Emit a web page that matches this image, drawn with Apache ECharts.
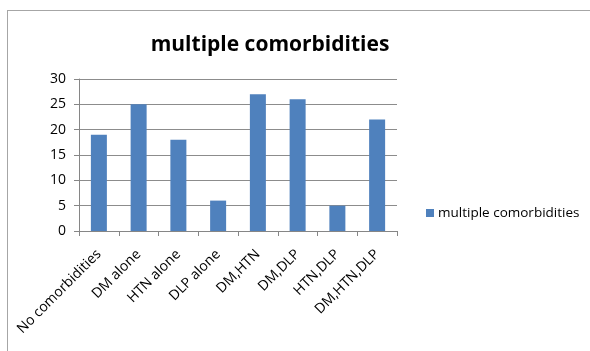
<!DOCTYPE html>
<html>
<head>
<meta charset="utf-8">
<script src="https://cdn.jsdelivr.net/npm/echarts@6/dist/echarts.min.js"></script>
<style>
  html, body { margin: 0; padding: 0; background: #fff; }
  #frame { position: absolute; left: 7px; top: 10px; width: 600px; height: 360px; border: 1px solid #a6a6a6; box-sizing: border-box; }
  #chart { position: absolute; left: 0; top: 0; width: 590px; height: 351px; }
</style>
</head>
<body>
<div id="frame"></div>
<div id="chart"></div>
<script>
// Comorbidity groups and their counts
const categories = ['No comorbidities', 'DM alone', 'HTN alone', 'DLP alone', 'DM,HTN', 'DM,DLP', 'HTN,DLP', 'DM,HTN,DLP'];
const counts = [19, 25, 18, 6, 27, 26, 5, 22];
const seriesName = 'multiple comorbidities';
const yTicks = { min: 0, max: 30, interval: 5 };

const font = '"Open Sans", sans-serif';
const chart = echarts.init(document.getElementById('chart'), null, { renderer: 'canvas' });
chart.setOption({
  animation: false,
  title: {
    text: 'multiple comorbidities',
    left: 265, top: 30, textAlign: 'center',
    textStyle: { fontFamily: font, fontSize: 21, fontWeight: 'bold', color: '#000' }
  },
  legend: {
    data: [seriesName],
    left: 421, top: 201,
    itemWidth: 8, itemHeight: 8, itemGap: 4,
    icon: 'rect',
    textStyle: { fontFamily: font, fontSize: 13.5, color: '#000', padding: [0, 0, 0, -1] }
  },
  grid: { left: 79, right: 193, top: 79, bottom: 120, containLabel: false },
  xAxis: {
    type: 'category',
    data: categories,
    boundaryGap: true,
    axisLine: { lineStyle: { color: '#868686' } },
    axisTick: { show: true, alignWithLabel: false, length: 5, lineStyle: { color: '#868686' } },
    axisLabel: { rotate: 45, interval: 0, margin: 21, fontFamily: font, fontSize: 14, color: '#000' }
  },
  yAxis: {
    type: 'value',
    min: yTicks.min, max: yTicks.max, interval: yTicks.interval,
    axisLine: { show: true, lineStyle: { color: '#868686' } },
    axisTick: { show: true, length: 5, lineStyle: { color: '#868686' } },
    axisLabel: { margin: 13, fontFamily: font, fontSize: 14, color: '#000' },
    splitLine: { lineStyle: { color: '#8c8c8c' } }
  },
  series: [{
    name: seriesName,
    type: 'bar',
    data: counts,
    barWidth: 16,
    itemStyle: { color: '#4f81bd' }
  }]
});
</script>
</body>
</html>
